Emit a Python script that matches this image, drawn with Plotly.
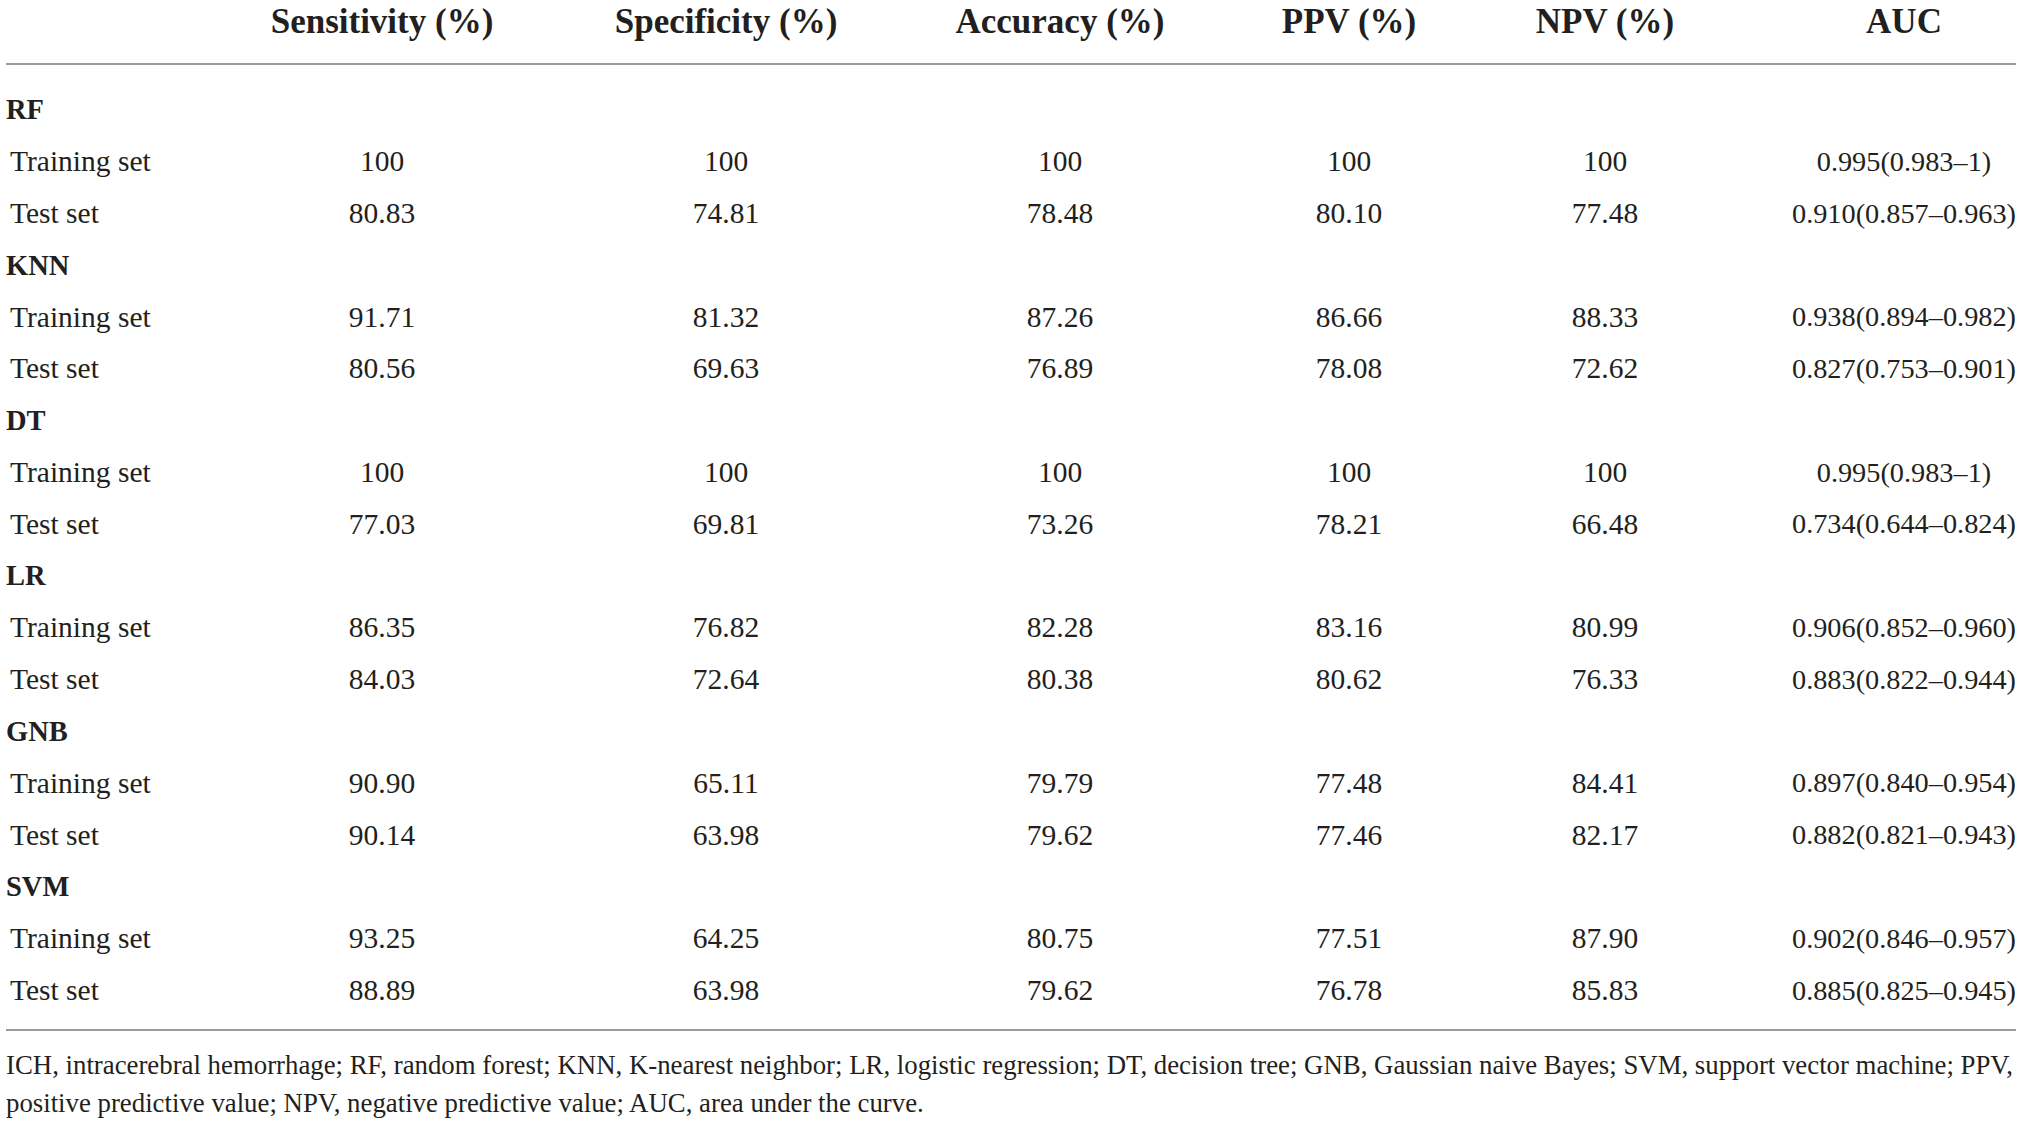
import plotly.graph_objects as go

# ---------------- data ----------------
columns = ["Sensitivity (%)", "Specificity (%)", "Accuracy (%)", "PPV (%)", "NPV (%)", "AUC"]
models = ["RF", "KNN", "DT", "LR", "GNB", "SVM"]
sets = ["Training set", "Test set"]

sensitivity = [["100", "80.83"], ["91.71", "80.56"], ["100", "77.03"],
               ["86.35", "84.03"], ["90.90", "90.14"], ["93.25", "88.89"]]
specificity = [["100", "74.81"], ["81.32", "69.63"], ["100", "69.81"],
               ["76.82", "72.64"], ["65.11", "63.98"], ["64.25", "63.98"]]
accuracy = [["100", "78.48"], ["87.26", "76.89"], ["100", "73.26"],
            ["82.28", "80.38"], ["79.79", "79.62"], ["80.75", "79.62"]]
ppv = [["100", "80.10"], ["86.66", "78.08"], ["100", "78.21"],
       ["83.16", "80.62"], ["77.48", "77.46"], ["77.51", "76.78"]]
npv = [["100", "77.48"], ["88.33", "72.62"], ["100", "66.48"],
       ["80.99", "76.33"], ["84.41", "82.17"], ["87.90", "85.83"]]
auc = [["0.995(0.983–1)", "0.910(0.857–0.963)"],
       ["0.938(0.894–0.982)", "0.827(0.753–0.901)"],
       ["0.995(0.983–1)", "0.734(0.644–0.824)"],
       ["0.906(0.852–0.960)", "0.883(0.822–0.944)"],
       ["0.897(0.840–0.954)", "0.882(0.821–0.943)"],
       ["0.902(0.846–0.957)", "0.885(0.825–0.945)"]]

footnote_lines = [
    "ICH, intracerebral hemorrhage; RF, random forest; KNN, K-nearest neighbor; LR, logistic regression; DT, decision tree; GNB, Gaussian naive Bayes; SVM, support vector machine; PPV,",
    "positive predictive value; NPV, negative predictive value; AUC, area under the curve.",
]

# ---------------- layout constants ----------------
W, H = 2023, 1121
FONT = "Liberation Serif"
INK = "#231f20"
RULE = "#9b9b9b"
col_x = [382, 726, 1060, 1349, 1605, 1904]
header_y = 24
top_rule_y = 64
row0_y = 112
row_step = 51.8
bottom_rule_y = 1030
foot_y = [1067, 1105]
label_x_group = 6
label_x_row = 10

metric_values = [sensitivity, specificity, accuracy, ppv, npv]

fig = go.Figure()

# header
fig.add_trace(go.Scatter(
    x=col_x, y=[header_y] * len(columns), mode="text", text=columns,
    textposition="middle center", cliponaxis=False,
    textfont=dict(family=FONT, size=35, color=INK, weight="bold"),
    hoverinfo="skip", showlegend=False))

# group labels, row labels, cells
gx, gy, gt = [], [], []
rx, ry, rt = [], [], []
cx, cy, ct = [], [], []
ax, ay, at = [], [], []
r = 0
for mi, m in enumerate(models):
    gx.append(label_x_group); gy.append(row0_y + r * row_step); gt.append(m)
    r += 1
    for si, s in enumerate(sets):
        y = row0_y + r * row_step
        rx.append(label_x_row); ry.append(y); rt.append(s)
        for ci, col in enumerate(metric_values):
            cx.append(col_x[ci]); cy.append(y); ct.append(col[mi][si])
        ax.append(col_x[5]); ay.append(y); at.append(auc[mi][si])
        r += 1

fig.add_trace(go.Scatter(
    x=gx, y=gy, mode="text", text=gt, textposition="middle right", cliponaxis=False,
    textfont=dict(family=FONT, size=28.5, color=INK, weight="bold"),
    hoverinfo="skip", showlegend=False))
fig.add_trace(go.Scatter(
    x=rx, y=ry, mode="text", text=rt, textposition="middle right", cliponaxis=False,
    textfont=dict(family=FONT, size=29.5, color=INK),
    hoverinfo="skip", showlegend=False))
fig.add_trace(go.Scatter(
    x=cx, y=cy, mode="text", text=ct, textposition="middle center", cliponaxis=False,
    textfont=dict(family=FONT, size=29.5, color=INK),
    hoverinfo="skip", showlegend=False))
fig.add_trace(go.Scatter(
    x=ax, y=ay, mode="text", text=at, textposition="middle center", cliponaxis=False,
    textfont=dict(family=FONT, size=28.3, color=INK),
    hoverinfo="skip", showlegend=False))

# footnote
fig.add_trace(go.Scatter(
    x=[label_x_group] * len(footnote_lines), y=foot_y, mode="text",
    text=footnote_lines, textposition="middle right", cliponaxis=False,
    textfont=dict(family=FONT, size=26.8, color=INK),
    hoverinfo="skip", showlegend=False))

# rules
for yy in (top_rule_y, bottom_rule_y):
    fig.add_shape(type="line", x0=6, x1=2016, y0=yy, y1=yy,
                  xref="x", yref="y", line=dict(color=RULE, width=2))

fig.update_layout(
    width=W, height=H, margin=dict(l=0, r=0, t=0, b=0),
    paper_bgcolor="white", plot_bgcolor="white",
    xaxis=dict(range=[0, W], visible=False, fixedrange=True),
    yaxis=dict(range=[H, 0], visible=False, fixedrange=True),
)

fig.write_html("out.html", config={"displayModeBar": False},
               post_script="document.body.style.margin='0';document.body.style.overflow='hidden';")
